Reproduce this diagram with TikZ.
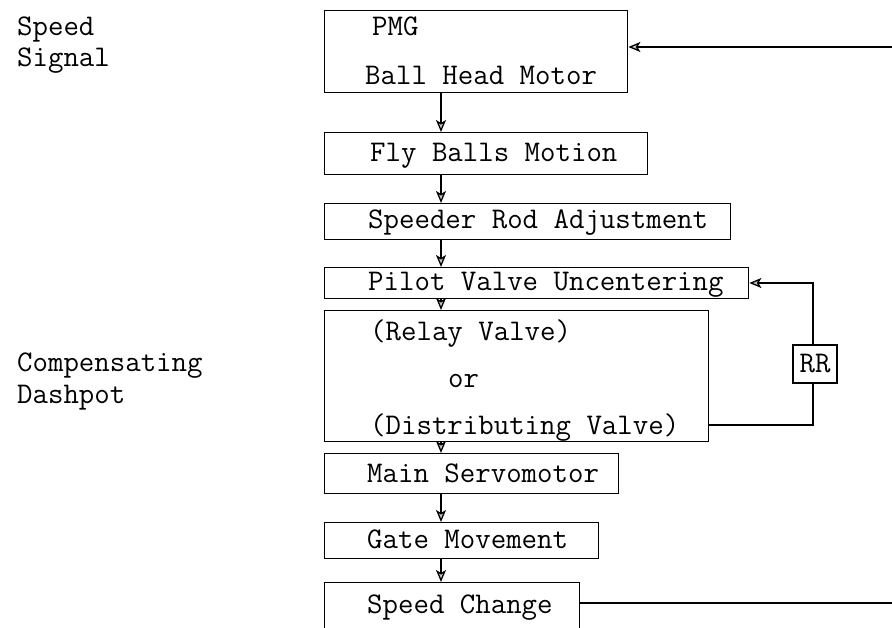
\documentclass[tikz,border=0pt]{standalone}
\usepackage{fontspec}
\usetikzlibrary{arrows.meta}
\newcommand\tyfont{\ttfamily\fontsize{30}{36}\selectfont}
\begin{document}
\begin{tikzpicture}[x=1pt,y=-1pt,
  box/.style={draw, line width=1.4pt, rectangle, inner sep=0pt, anchor=north west},
  txt/.style={anchor=base west, inner sep=0pt, font=\tyfont},
  conn/.style={line width=1.3pt},
  arr/.style={conn, -{Stealth[length=12pt,width=10pt,inset=3pt,fill=gray!45]}}]
\useasboundingbox (0,0) rectangle (892,628);
\clip (0,0) rectangle (892,628);
% side labels
\node[txt] (sp1) at (17,36) {Speed};
\node[txt] (sp2) at (17,67) {Signal};
\node[txt] (cd1) at (17,372) {Compensating};
\node[txt] (cd2) at (17,403) {Dashpot};
% boxes
\node[box, minimum width=303pt, minimum height=82pt] (b1) at (324,10) {};
\node[box, minimum width=323pt, minimum height=42pt] (fly) at (324,132) {};
\node[box, minimum width=406pt, minimum height=36pt] (spd) at (324,203) {};
\node[box, minimum width=424pt, minimum height=31pt] (pil) at (324,267) {};
\node[box, minimum width=384pt, minimum height=131pt] (rel) at (324,310) {};
\node[box, minimum width=294pt, minimum height=40pt] (mai) at (324,453) {};
\node[box, minimum width=274pt, minimum height=36pt] (gat) at (324,522) {};
\node[box, minimum width=255pt, minimum height=70pt] (chg) at (324,582) {};
\node[draw, line width=1.4pt, inner sep=0pt, minimum width=44pt, minimum height=38pt, font=\tyfont] (rr) at (815,364) {RR};
% texts
\node[txt] (t1a) at (372,36) {PMG};
\node[txt] (t1b) at (365,85) {Ball Head Motor};
\node[txt] (t2) at (370,162) {Fly Balls Motion};
\node[txt] (t3) at (368,229) {Speeder Rod Adjustment};
\node[txt] (t4) at (368,291) {Pilot Valve Uncentering};
\node[txt] (t5a) at (370,341) {(Relay Valve)};
\node[txt] (t5b) at (448,388) {or};
\node[txt] (t5c) at (370,435) {(Distributing Valve)};
\node[txt] (t6) at (367,482) {Main Servomotor};
\node[txt] (t7) at (367,548) {Gate Movement};
\node[txt] (t8) at (367,613) {Speed Change};
% vertical arrows
\coordinate (ax) at (441,0);
\draw[arr] (b1.south -| ax) -- (fly.north -| ax);
\draw[arr] (fly.south -| ax) -- (spd.north -| ax);
\draw[arr] (spd.south -| ax) -- (pil.north -| ax);
\draw[arr] (pil.south -| ax) -- (rel.north -| ax);
\draw[arr] (rel.south -| ax) -- (mai.north -| ax);
\draw[arr] (mai.south -| ax) -- (gat.north -| ax);
\draw[arr] (gat.south -| ax) -- (chg.north -| ax);
% feedback top
\coordinate (fbt) at (892,47);
\draw[arr] (fbt) -- (b1.east |- fbt);
% feedback bottom
\coordinate (fbb) at (892,603);
\draw[conn] (chg.east |- fbb) -- (fbb);
% RR loop
\coordinate (rl) at (813,425);
\coordinate (ru) at (813,283);
\draw[conn] (rel.east |- rl) -- (rl) -- (rr.south -| rl);
\draw[arr] (rr.north -| ru) -- (ru) -- (pil.east |- ru);
\end{tikzpicture}
\end{document}
